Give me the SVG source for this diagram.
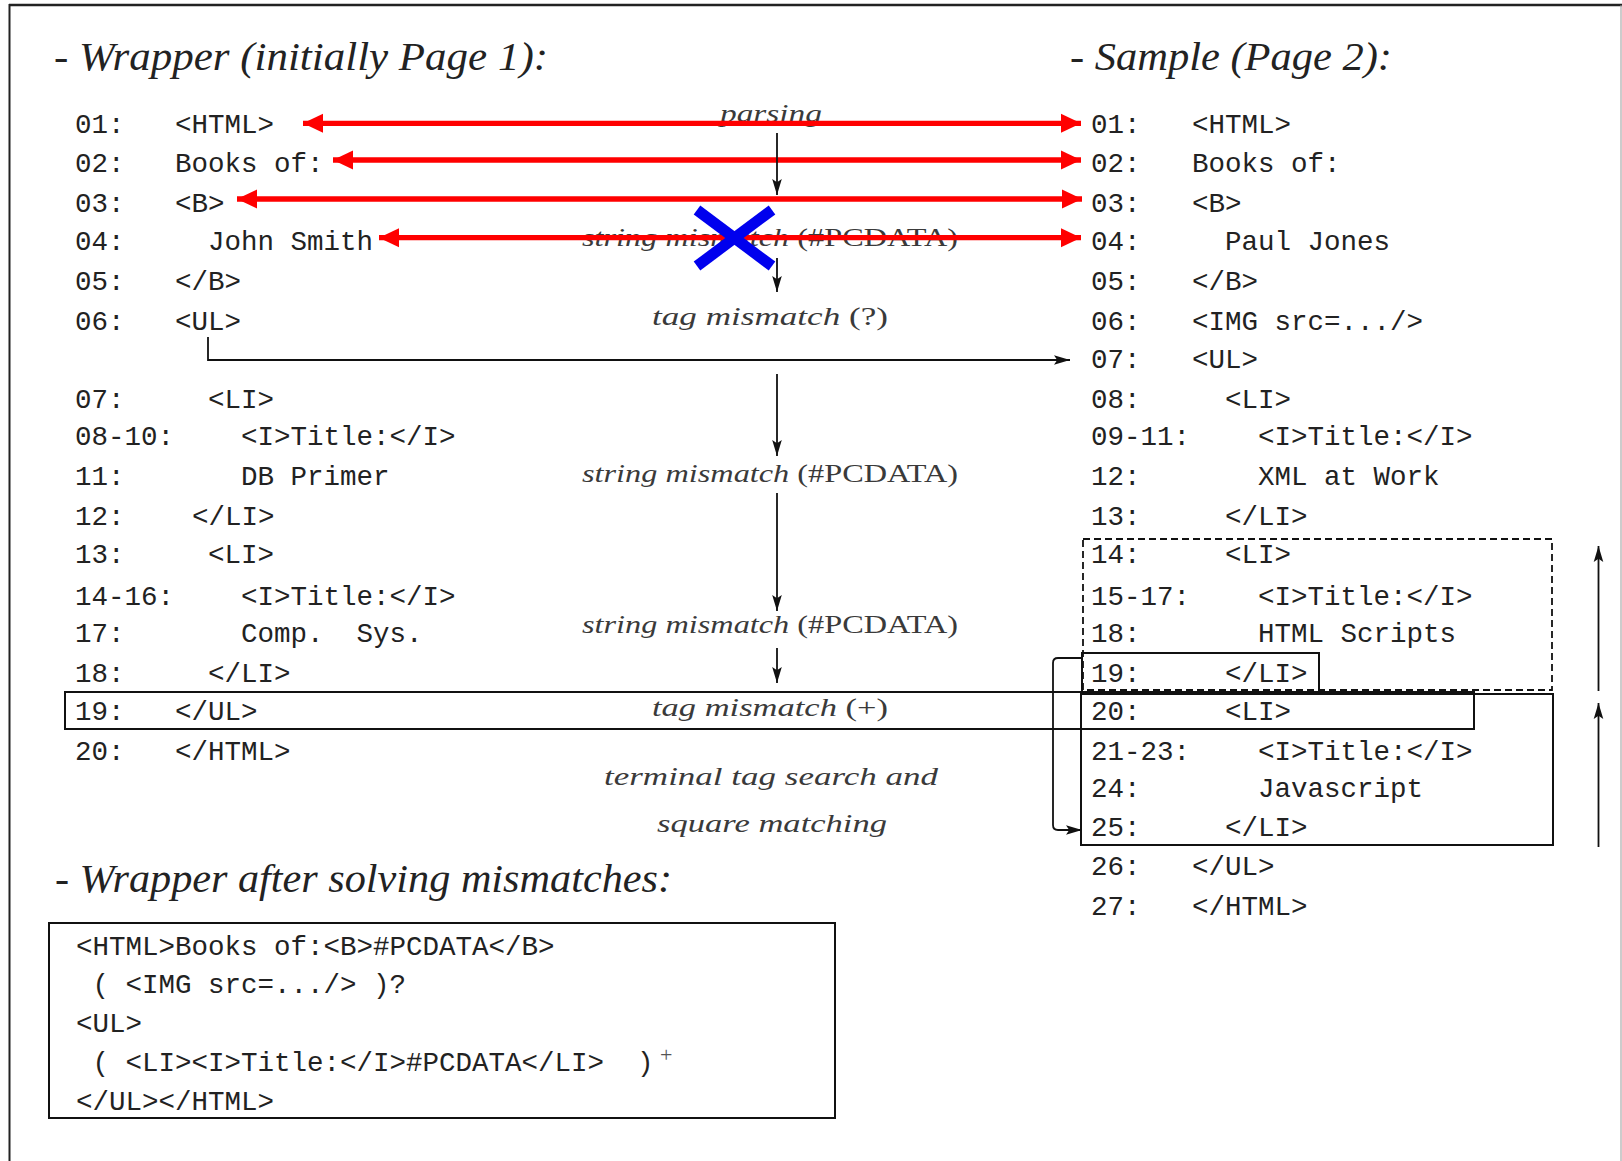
<svg xmlns="http://www.w3.org/2000/svg" width="1622" height="1161" viewBox="0 0 1622 1161">
<defs>
<style>
.m{font-family:"Liberation Mono","Courier New",monospace;font-size:27.5px;fill:#222}
.h{font-family:"Liberation Serif","Times New Roman",serif;font-style:italic;font-size:41px;fill:#222}
.l{font-family:"Liberation Serif","Times New Roman",serif;font-style:italic;font-size:26px;fill:#3a3a3a}
.u{font-style:normal}
.red{stroke:#ff0000;stroke-width:5.3;fill:none}
.blk{stroke:#111;stroke-width:1.8;fill:none}
.box{stroke:#111;stroke-width:2;fill:none}
</style>
<marker id="rh" markerUnits="userSpaceOnUse" markerWidth="20" markerHeight="20" viewBox="0 0 18 18" refX="18" refY="9" orient="auto-start-reverse">
<path d="M0,0.5 L18,9 L0,17.5 Z" fill="#ff0000"/>
</marker>
<marker id="bh" markerUnits="userSpaceOnUse" markerWidth="16" markerHeight="12" viewBox="0 0 15 10" refX="15" refY="5" orient="auto-start-reverse">
<path d="M0,0.5 L15,5 L0,9.5 L3,5 Z" fill="#111"/>
</marker>
</defs>
<rect width="1622" height="1161" fill="#fff"/>

<g id="frame">
<line x1="9" y1="5" x2="1622" y2="5" stroke="#222" stroke-width="2.5"/>
<line x1="9.5" y1="4" x2="9.5" y2="1161" stroke="#222" stroke-width="2"/>
<line x1="1621" y1="5" x2="1621" y2="1161" stroke="#999" stroke-width="1"/>
</g>

<g id="headings">
<text class="h" x="54" y="70" textLength="494" lengthAdjust="spacingAndGlyphs">- Wrapper (initially Page 1):</text>
<text class="h" x="1070" y="70" textLength="322" lengthAdjust="spacingAndGlyphs">- Sample (Page 2):</text>
<text class="h" x="55" y="892" textLength="617" lengthAdjust="spacingAndGlyphs">- Wrapper after solving mismatches:</text>
</g>

<g id="labels">
<text class="l" x="720" y="122" textLength="102" lengthAdjust="spacingAndGlyphs">parsing</text>
<text class="l" x="582" y="246" textLength="376" lengthAdjust="spacingAndGlyphs">string mismatch <tspan class="u">(#PCDATA)</tspan></text>
<text class="l" x="652" y="325" textLength="236" lengthAdjust="spacingAndGlyphs">tag mismatch <tspan class="u">(?)</tspan></text>
<text class="l" x="582" y="482" textLength="376" lengthAdjust="spacingAndGlyphs">string mismatch <tspan class="u">(#PCDATA)</tspan></text>
<text class="l" x="582" y="633" textLength="376" lengthAdjust="spacingAndGlyphs">string mismatch <tspan class="u">(#PCDATA)</tspan></text>
<text class="l" x="652" y="716" textLength="236" lengthAdjust="spacingAndGlyphs">tag mismatch <tspan class="u">(+)</tspan></text>
<text class="l" x="604" y="785" textLength="334" lengthAdjust="spacingAndGlyphs">terminal tag search and</text>
<text class="l" x="657" y="832" textLength="230" lengthAdjust="spacingAndGlyphs">square matching</text>
</g>

<g id="wrapper">
<text class="m" x="75" y="133">01:</text><text class="m" x="175" y="133">&lt;HTML&gt;</text>
<text class="m" x="75" y="172">02:</text><text class="m" x="175" y="172">Books of:</text>
<text class="m" x="75" y="212">03:</text><text class="m" x="175" y="212">&lt;B&gt;</text>
<text class="m" x="75" y="250">04:</text><text class="m" x="208" y="250">John Smith</text>
<text class="m" x="75" y="290">05:</text><text class="m" x="175" y="290">&lt;/B&gt;</text>
<text class="m" x="75" y="330">06:</text><text class="m" x="175" y="330">&lt;UL&gt;</text>
<text class="m" x="75" y="408">07:</text><text class="m" x="208" y="408">&lt;LI&gt;</text>
<text class="m" x="75" y="445">08-10:</text><text class="m" x="241" y="445">&lt;I&gt;Title:&lt;/I&gt;</text>
<text class="m" x="75" y="485">11:</text><text class="m" x="241" y="485">DB Primer</text>
<text class="m" x="75" y="525">12:</text><text class="m" x="192" y="525">&lt;/LI&gt;</text>
<text class="m" x="75" y="563">13:</text><text class="m" x="208" y="563">&lt;LI&gt;</text>
<text class="m" x="75" y="605">14-16:</text><text class="m" x="241" y="605">&lt;I&gt;Title:&lt;/I&gt;</text>
<text class="m" x="75" y="642">17:</text><text class="m" x="241" y="642" xml:space="preserve">Comp.  Sys.</text>
<text class="m" x="75" y="682">18:</text><text class="m" x="208" y="682">&lt;/LI&gt;</text>
<text class="m" x="75" y="720">19:</text><text class="m" x="175" y="720">&lt;/UL&gt;</text>
<text class="m" x="75" y="760">20:</text><text class="m" x="175" y="760">&lt;/HTML&gt;</text>
</g>

<g id="sample">
<text class="m" x="1091" y="133">01:</text><text class="m" x="1192" y="133">&lt;HTML&gt;</text>
<text class="m" x="1091" y="172">02:</text><text class="m" x="1192" y="172">Books of:</text>
<text class="m" x="1091" y="212">03:</text><text class="m" x="1192" y="212">&lt;B&gt;</text>
<text class="m" x="1091" y="250">04:</text><text class="m" x="1225" y="250">Paul Jones</text>
<text class="m" x="1091" y="290">05:</text><text class="m" x="1192" y="290">&lt;/B&gt;</text>
<text class="m" x="1091" y="330">06:</text><text class="m" x="1192" y="330">&lt;IMG src=.../&gt;</text>
<text class="m" x="1091" y="368">07:</text><text class="m" x="1192" y="368">&lt;UL&gt;</text>
<text class="m" x="1091" y="408">08:</text><text class="m" x="1225" y="408">&lt;LI&gt;</text>
<text class="m" x="1091" y="445">09-11:</text><text class="m" x="1258" y="445">&lt;I&gt;Title:&lt;/I&gt;</text>
<text class="m" x="1091" y="485">12:</text><text class="m" x="1258" y="485">XML at Work</text>
<text class="m" x="1091" y="525">13:</text><text class="m" x="1225" y="525">&lt;/LI&gt;</text>
<text class="m" x="1091" y="563">14:</text><text class="m" x="1225" y="563">&lt;LI&gt;</text>
<text class="m" x="1091" y="605">15-17:</text><text class="m" x="1258" y="605">&lt;I&gt;Title:&lt;/I&gt;</text>
<text class="m" x="1091" y="642">18:</text><text class="m" x="1258" y="642">HTML Scripts</text>
<text class="m" x="1091" y="682">19:</text><text class="m" x="1225" y="682">&lt;/LI&gt;</text>
<text class="m" x="1091" y="720">20:</text><text class="m" x="1225" y="720">&lt;LI&gt;</text>
<text class="m" x="1091" y="760">21-23:</text><text class="m" x="1258" y="760">&lt;I&gt;Title:&lt;/I&gt;</text>
<text class="m" x="1091" y="797">24:</text><text class="m" x="1258" y="797">Javascript</text>
<text class="m" x="1091" y="836">25:</text><text class="m" x="1225" y="836">&lt;/LI&gt;</text>
<text class="m" x="1091" y="875">26:</text><text class="m" x="1192" y="875">&lt;/UL&gt;</text>
<text class="m" x="1091" y="915">27:</text><text class="m" x="1192" y="915">&lt;/HTML&gt;</text>
</g>

<g id="boxes">
<rect class="box" x="65" y="692" width="1409" height="37"/>
<rect x="1083" y="539" width="469" height="151" fill="none" stroke="#111" stroke-width="1.8" stroke-dasharray="7 4"/>
<rect class="box" x="1082" y="653" width="237" height="39"/>
<rect class="box" x="1081" y="694" width="472" height="151"/>
</g>

<g id="result">
<rect class="box" x="49" y="923" width="786" height="195"/>
<text class="m" x="76" y="955">&lt;HTML&gt;Books of:&lt;B&gt;#PCDATA&lt;/B&gt;</text>
<text class="m" x="76" y="993" xml:space="preserve"> ( &lt;IMG src=.../&gt; )?</text>
<text class="m" x="76" y="1032">&lt;UL&gt;</text>
<text class="m" x="76" y="1071" xml:space="preserve"> ( &lt;LI&gt;&lt;I&gt;Title:&lt;/I&gt;#PCDATA&lt;/LI&gt;  )</text>
<text x="660" y="1062" font-family="Liberation Serif, serif" font-size="22" fill="#555">+</text>
<text class="m" x="76" y="1110">&lt;/UL&gt;&lt;/HTML&gt;</text>
</g>

<g id="connectors">
<line class="red" x1="303" y1="123.3" x2="1081" y2="123.3" marker-start="url(#rh)" marker-end="url(#rh)"/>
<line class="red" x1="333" y1="160" x2="1081" y2="160" marker-start="url(#rh)" marker-end="url(#rh)"/>
<line class="red" x1="237" y1="199" x2="1082" y2="199" marker-start="url(#rh)" marker-end="url(#rh)"/>
<line class="red" x1="379" y1="237.7" x2="1081" y2="237.7" marker-start="url(#rh)" marker-end="url(#rh)"/>
<line class="blk" x1="777" y1="133" x2="777" y2="195" marker-end="url(#bh)"/>
<line class="blk" x1="777" y1="258" x2="777" y2="292" marker-end="url(#bh)"/>
<line class="blk" x1="777" y1="374" x2="777" y2="456" marker-end="url(#bh)"/>
<line class="blk" x1="777" y1="493" x2="777" y2="611" marker-end="url(#bh)"/>
<line class="blk" x1="777" y1="648" x2="777" y2="683" marker-end="url(#bh)"/>
<path class="blk" d="M208,337 V360 H1070" marker-end="url(#bh)"/>
<path class="blk" d="M1083,658 H1058 Q1053,658 1053,663 V825 Q1053,830 1058,830 H1082" marker-end="url(#bh)"/>
<line class="blk" x1="1598.5" y1="691" x2="1598.5" y2="546" marker-end="url(#bh)"/>
<line class="blk" x1="1598.5" y1="847" x2="1598.5" y2="703" marker-end="url(#bh)"/>
<g id="cross" stroke="#0000ee" stroke-width="11">
<line x1="697" y1="210" x2="772" y2="266"/>
<line x1="697" y1="266" x2="772" y2="210"/>
</g>
</g>
</svg>
